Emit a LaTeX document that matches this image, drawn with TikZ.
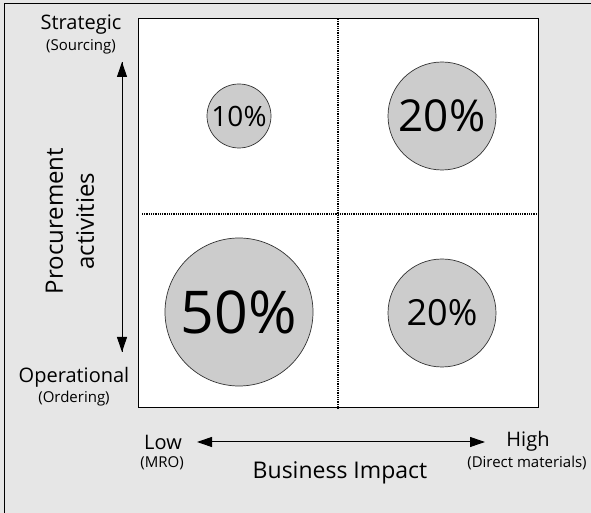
\documentclass[tikz,border=0pt]{standalone}
\usepackage{fontspec}
\setmainfont{Open Sans}
\usetikzlibrary{arrows.meta}
\definecolor{bgGray}{HTML}{E6E6E6}
\definecolor{circGray}{HTML}{CCCCCC}
\definecolor{circLine}{HTML}{333333}

\begin{document}
\begin{tikzpicture}
[x=1pt,y=1pt,%
  axisArrow/.style={-{Triangle[length=15pt,width=10pt]},line width=1pt},%
  gridLine/.style={line width=1.3pt,dash pattern=on 1pt off 0.8pt},%
  pctCircle/.style={shape=circle,inner sep=0pt,fill=circGray,draw=circLine,line width=0.7pt},%
  mainLbl/.style={inner sep=0pt,font=\fontsize{20}{24}\selectfont},%
  subLbl/.style={inner sep=0pt,font=\fontsize{15}{18}\selectfont}]
%% background and frame
\fill[bgGray] (0,0) rectangle (591,513);
\useasboundingbox (0,0) rectangle (591,513);
\draw[line width=1pt] (4,0) -- (4,509) -- (591,509);
\node[draw,fill=white,line width=1pt,inner sep=0pt,
  minimum width=400pt,minimum height=389pt,anchor=south west] (matrixBox) at (138,105) {};
%% quadrant lines
\coordinate (hLeft) at (142,299);
\coordinate (hRight) at (matrixBox.east |- hLeft);
\coordinate (vTop) at (338,494);
\coordinate (vBottom) at (338,105);
\draw[gridLine] (hLeft) -- (hRight);
\draw[gridLine] (vTop) -- (vBottom);
%% share circles
\foreach \circname/\x/\y/\r/\fs/\val in {
  cTopLeft/239/397/32/28/10, cTopRight/442/397/54/44/20,
  cBottomLeft/239/201/74/59/50, cBottomRight/442/200/54/36/20}
{
  \node[pctCircle,minimum size=2*\r pt,font=\fontsize{\fs}{\fs}\selectfont]
    (\circname) at (\x,\y) {\val\%};
}
%% axis labels
\node[mainLbl] (strategic) at (81,488) {Strategic};
\node[subLbl] (sourcing) at (81,466) {(Sourcing)};
\node[mainLbl] (operational) at (74,136) {Operational};
\node[subLbl] (ordering) at (74,114) {(Ordering)};
\node[rotate=90,align=center,font=\fontsize{24}{31}\selectfont]
  (procurement) at (70,292) {Procurement\\activities};
\node[mainLbl] (low) at (163,71) {Low};
\node[subLbl] (mro) at (162,50) {(MRO)};
\node[mainLbl] (high) at (528,72) {High};
\node[subLbl] (direct) at (527,50) {(Direct materials)};
\node[inner sep=0pt,font=\fontsize{23}{27}\selectfont] (impact) at (340,40) {Business Impact};
%% axis arrows
\coordinate (vArrowBottom) at (122,161);
\coordinate (vArrowTop) at (122,451);
\coordinate (hArrowLeft) at (197,71);
\coordinate (hArrowRight) at (485,71);
\draw[axisArrow] (vArrowBottom) -- (vArrowTop);
\draw[axisArrow] (vArrowTop) -- (vArrowBottom);
\draw[axisArrow,{Triangle[length=15pt,width=10pt]}-{Triangle[length=15pt,width=10pt]}] (hArrowLeft) -- (hArrowRight);
\end{tikzpicture}
\end{document}
